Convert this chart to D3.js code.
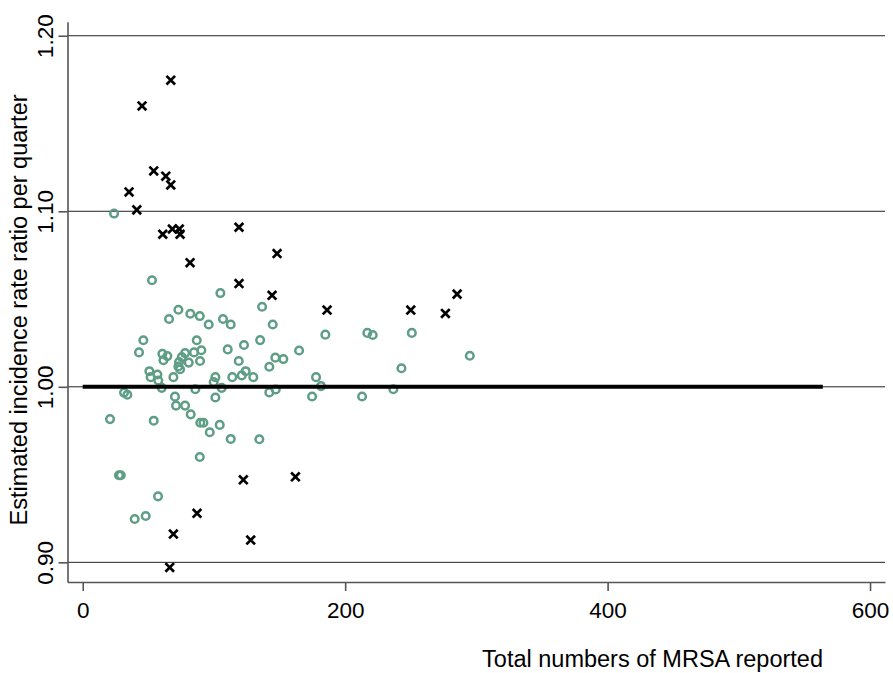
<!DOCTYPE html>
<html>
<head>
<meta charset="utf-8">
<script src="https://cdn.jsdelivr.net/npm/d3@7"></script>
<style>
  body { margin: 0; background: #fff; }
  svg { display: block; font-family: "Liberation Sans", Arial, sans-serif; }
  .grid-line { stroke: #222; stroke-width: 1; }
  .axis-line { stroke: #555; stroke-width: 1.6; }
</style>
</head>
<body>
<div class="module-graph"></div>
<script>
"use strict"

// circles: hospitals within the expected range
const circleX = [23.9, 52.8, 104.9, 72.9, 65.8, 82.0, 89.2, 96.0, 106.9, 112.8,
    46.2, 42.9, 86.9, 60.7, 64.5, 61.5, 110.5, 122.9, 118.9, 135.2,
    136.7, 90.4, 84.8, 89.4, 80.8, 78.0, 75.5, 73.4, 72.9, 74.2,
    50.8, 56.9, 51.8, 57.6, 60.2, 69.1, 101.1, 99.8, 105.9, 85.8,
    114.0, 121.2, 124.2, 130.0, 31.5, 34.0, 70.3, 71.1, 78.0, 101.1,
    20.8, 54.1, 82.3, 89.6, 92.0, 104.4, 96.8, 112.8, 134.6, 89.2,
    27.6, 29.0, 57.4, 39.6, 48.0, 144.8, 146.8, 152.9, 142.2, 164.9,
    184.9, 216.9, 221.0, 250.8, 295.0, 242.9, 177.8, 181.6, 142.2, 147.1,
    174.8, 212.9, 236.7];
const circleY = [1.0987, 1.0607, 1.0534, 1.0439, 1.0386, 1.0416, 1.0403, 1.0355, 1.0386, 1.0355,
    1.0265, 1.0196, 1.0265, 1.0188, 1.0175, 1.0151, 1.0213, 1.0238, 1.0147, 1.0266,
    1.0456, 1.0208, 1.0196, 1.0147, 1.0138, 1.0192, 1.0169, 1.0141, 1.0116, 1.0100,
    1.0089, 1.0070, 1.0055, 1.0036, 0.9994, 1.0055, 1.0055, 1.0027, 0.9994, 0.9986,
    1.0055, 1.0065, 1.0089, 1.0055, 0.9967, 0.9955, 0.9944, 0.9893, 0.9893, 0.9939,
    0.9816, 0.9807, 0.9843, 0.9795, 0.9795, 0.9783, 0.9741, 0.9703, 0.9701, 0.9600,
    0.9496, 0.9496, 0.9376, 0.9247, 0.9264, 1.0355, 1.0166, 1.0158, 1.0114, 1.0207,
    1.0297, 1.0307, 1.0295, 1.0307, 1.0177, 1.0106, 1.0055, 1.0004, 0.9968, 0.9985,
    0.9945, 0.9945, 0.9986];

// crosses: outliers
const crossX = [67.1, 45.2, 54.1, 63.3, 67.1, 35.3, 41.2, 61.0, 68.3, 73.6,
    74.2, 81.8, 119.1, 148.1, 119.1, 144.3, 186.2, 250.0, 276.4, 285.3,
    122.4, 162.1, 87.1, 69.1, 128.0, 66.3];
const crossY = [1.1747, 1.160, 1.123, 1.120, 1.115, 1.111, 1.1008, 1.0869, 1.0899, 1.0899,
    1.0869, 1.0707, 1.0909, 1.0759, 1.0588, 1.0521, 1.0437, 1.0437, 1.0418, 1.0528,
    0.947, 0.9487, 0.9279, 0.9161, 0.9127, 0.8971];

// reference line at 1
const refX = [0, 564];
const refY = [1, 1];

const xTicks = [0, 200, 400, 600];
const yTicks = [0.9, 1.0, 1.1, 1.2];
const yTickLabels = ["0.90", "1.00", "1.10", "1.20"];

const width = 893,
    height = 673;

const svg = d3.select("div.module-graph").append("svg")
    .attr("width", width)
    .attr("height", height);

const scaleX = d3.scaleLinear()
    .domain([-11.6, 611.4])
    .range([67.5, 885]);

const scaleY = d3.scaleLinear()
    .domain([0.8888, 1.208])
    .range([582, 21.7]);

// grid lines
svg.selectAll("line.grid-line")
    .data(yTicks)
    .enter().append("line")
    .attr("class", "grid-line")
    .attr("x1", scaleX.range()[0])
    .attr("x2", scaleX.range()[1])
    .attr("y1", d => scaleY(d))
    .attr("y2", d => scaleY(d));

// axes
const xAxis = d3.axisBottom(scaleX)
    .tickValues(xTicks)
    .tickSize(9)
    .tickSizeOuter(0)
    .tickPadding(11);

const yAxis = d3.axisLeft(scaleY)
    .tickValues(yTicks)
    .tickSize(9)
    .tickSizeOuter(0)
    .tickFormat((d, i) => yTickLabels[i]);

const gx = svg.append("g")
    .attr("transform", "translate(0," + scaleY.range()[0] + ")")
    .call(xAxis);
gx.select(".domain").attr("class", "axis-line").attr("fill", "none");
gx.selectAll(".tick line").attr("stroke", "#555").attr("stroke-width", 1.6);
gx.selectAll(".tick text")
    .attr("fill", "#000")
    .style("font-size", "22.5px")
    .style("font-family", "Liberation Sans, Arial, sans-serif");

const gy = svg.append("g")
    .attr("transform", "translate(" + scaleX.range()[0] + ",0)")
    .call(yAxis);
gy.select(".domain").attr("class", "axis-line").attr("fill", "none");
gy.selectAll(".tick line").attr("stroke", "#555").attr("stroke-width", 1.6);
gy.selectAll(".tick text")
    .attr("fill", "#000")
    .attr("x", null)
    .attr("dy", null)
    .attr("text-anchor", "middle")
    .attr("transform", "translate(-14.5,0) rotate(-90)")
    .style("font-size", "22.5px")
    .style("font-family", "Liberation Sans, Arial, sans-serif");

// circles
svg.append("g").selectAll("circle")
    .data(circleX.map((x, i) => [x, circleY[i]]))
    .enter().append("circle")
    .attr("cx", d => scaleX(d[0]))
    .attr("cy", d => scaleY(d[1]))
    .attr("r", 3.8)
    .attr("fill", "none")
    .attr("stroke", "#5f9e86")
    .attr("stroke-width", 2.5);

// crosses
const s = 4.3;
svg.append("g").selectAll("path")
    .data(crossX.map((x, i) => [x, crossY[i]]))
    .enter().append("path")
    .attr("transform", d => "translate(" + scaleX(d[0]) + "," + scaleY(d[1]) + ")")
    .attr("d", "M" + -s + "," + -s + "L" + s + "," + s + "M" + -s + "," + s + "L" + s + "," + -s)
    .attr("stroke", "#000")
    .attr("stroke-width", 2.7)
    .attr("fill", "none");

// reference line
const line = d3.line()
    .x((d, i) => scaleX(d))
    .y((d, i) => scaleY(refY[i]));
svg.append("path")
    .attr("d", line(refX))
    .attr("stroke", "#000")
    .attr("stroke-width", 4)
    .attr("fill", "none");

// titles
svg.append("text")
    .attr("x", 823)
    .attr("y", 667)
    .attr("text-anchor", "end")
    .attr("fill", "#000")
    .style("font-size", "23.5px")
    .text("Total numbers of MRSA reported");

svg.append("text")
    .attr("transform", "translate(27,310) rotate(-90)")
    .attr("text-anchor", "middle")
    .attr("fill", "#000")
    .style("font-size", "23.5px")
    .text("Estimated incidence rate ratio per quarter");
</script>
</body>
</html>
